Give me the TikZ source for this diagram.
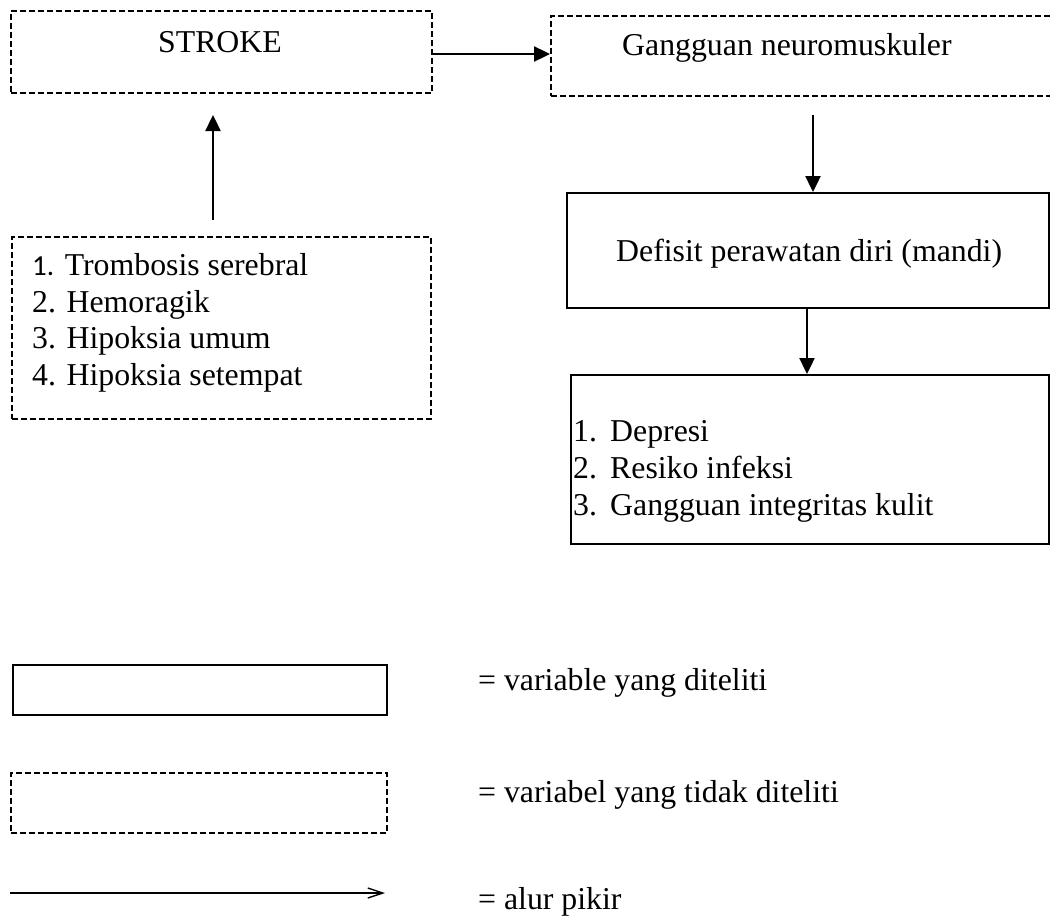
\documentclass[tikz,border=0pt]{standalone}
\usepackage{fontspec}
\setmainfont{Liberation Serif}
\newfontfamily\carl{Carlito}
\usetikzlibrary{arrows.meta,calc}
\begin{document}
\begin{tikzpicture}[x=1pt,y=-1pt,
  dbox/.style={draw, dash pattern=on 6pt off 3pt, line width=1.8pt, inner sep=0pt, anchor=north west},
  sbox/.style={draw, line width=2.4pt, inner sep=0pt, anchor=north west},
  arr/.style={line width=2.4pt, -{Triangle[length=16pt,width=15pt]}},
  thinarr/.style={line width=1.4pt, -{Straight Barb[length=15pt,width=10pt]}},
  txt/.style={inner sep=0pt, anchor=base west, font=\fontsize{31.8}{37}\selectfont}
]
\useasboundingbox (0,0) rectangle (1050,919);
% boxes
\node[dbox, minimum width=421pt, minimum height=82pt] (stroke) at (10,10) {};
\node[dbox, minimum width=520pt, minimum height=80pt] (gang) at (550,15) {};
\node[dbox, minimum width=419pt, minimum height=182pt] (causes) at (11,236) {};
\node[sbox, minimum width=482pt, minimum height=115pt] (defisit) at (566,192) {};
\node[sbox, minimum width=478pt, minimum height=169pt] (outc) at (570,374) {};
\node[sbox, minimum width=374pt, minimum height=50pt] (legs) at (12,664) {};
\node[dbox, minimum width=376pt, minimum height=60pt] (legd) at (10,772) {};
% texts
\node[txt, anchor=base] (tstroke) at (220,52) {STROKE};
\node[txt] (tgang) at (622,55) {Gangguan neuromuskuler};
\node[txt] (tc1) at (32,275) {{\carl\fontsize{29}{35}\selectfont 1.} Trombosis serebral};
\node[txt] (tc2) at (32,312) {2. Hemoragik};
\node[txt] (tc3) at (32,348) {3. Hipoksia umum};
\node[txt] (tc4) at (32,385) {4. Hipoksia setempat};
\node[txt] (tdef) at (616,261) {Defisit perawatan diri (mandi)};
\node[txt] (to1) at (573,441) {\makebox[37pt][l]{1.}Depresi};
\node[txt] (to2) at (573,478) {\makebox[37pt][l]{2.}Resiko infeksi};
\node[txt] (to3) at (573,515) {\makebox[37pt][l]{3.}Gangguan integritas kulit};
\node[txt] (tl1) at (478,690) {= variable yang diteliti};
\node[txt] (tl2) at (478,802) {= variabel yang tidak diteliti};
\node[txt] (tl3) at (478,909) {= alur pikir};
% connectors
\draw[arr] (stroke.east |- 0,54) -- (gang.west |- 0,54);
\coordinate (u1) at (213,220);
\coordinate (u2) at (213,115);
\draw[arr] (u1) -- (u2);
\coordinate (d1) at (813,115);
\draw[arr] (d1) -- (defisit.north -| d1);
\draw[arr] (defisit.south -| 807,0) -- (outc.north -| 807,0);
\coordinate (la1) at (10,893);
\coordinate (la2) at (385,893);
\draw[thinarr] (la1) -- (la2);
\end{tikzpicture}
\end{document}
